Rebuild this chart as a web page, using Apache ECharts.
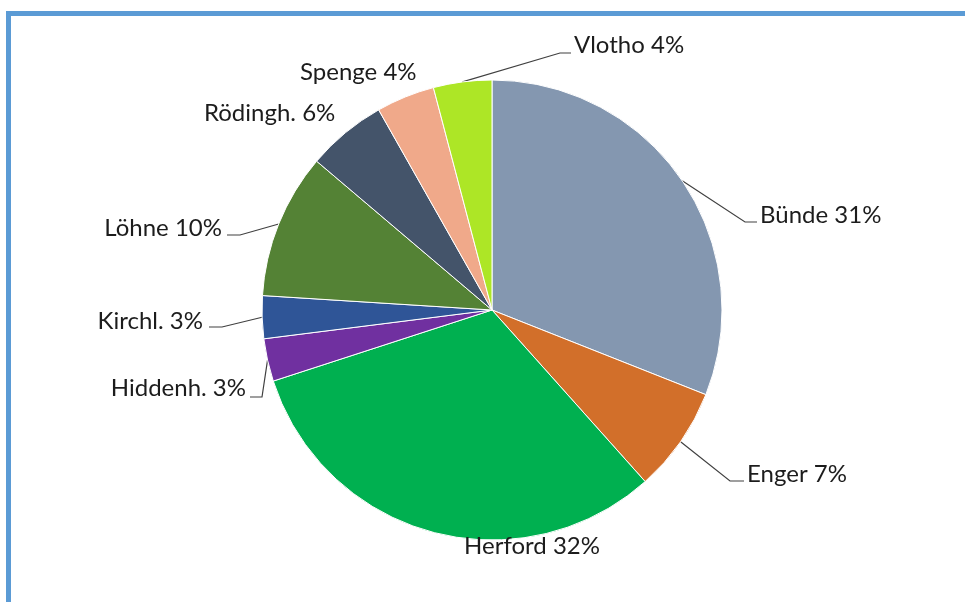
<!DOCTYPE html>
<html>
<head>
<meta charset="utf-8">
<script src="https://cdn.jsdelivr.net/npm/echarts@6/dist/echarts.min.js"></script>
<style>
html,body{margin:0;padding:0;background:#fff;}
#frame{position:absolute;left:6px;top:11px;width:1000px;height:700px;border-left:5px solid #5B9BD5;border-top:5px solid #5B9BD5;box-sizing:border-box;}
#chart{position:absolute;left:0;top:0;width:965px;height:602px;}
</style>
</head>
<body>
<div id="frame"></div>
<div id="chart"></div>
<script>
const categories = ['Bünde', 'Enger', 'Herford', 'Hiddenh.', 'Kirchl.', 'Löhne', 'Rödingh.', 'Spenge', 'Vlotho'];
const values = [31.0, 7.4, 31.6, 3.0, 3.0, 10.2, 5.6, 4.1, 4.1];
const colors = ['#8497B0', '#D26F2A', '#00B050', '#7030A0', '#2F5597', '#548235', '#44546A', '#F0A98A', '#ADE626'];

// label placement (Excel-style callouts): anchor point, alignment, leader elbow
const labelPlacement = [
  {x: 760, y: 215, align: 'left',   elbow: [745, 222], end: [757, 222]},
  {x: 747, y: 474, align: 'left',   elbow: [730, 481], end: [744, 481]},
  {x: 532, y: 546, align: 'center', elbow: null},
  {x: 246, y: 388, align: 'right',  elbow: [262, 397], end: [250, 397]},
  {x: 203, y: 321, align: 'right',  elbow: [222, 327], end: [209, 327]},
  {x: 222, y: 228, align: 'right',  elbow: [240, 235], end: [227, 235]},
  {x: 204, y: 113, align: 'left',   elbow: null},
  {x: 300, y: 72,  align: 'left',   elbow: null},
  {x: 574, y: 45,  align: 'left',   elbow: [560, 53], end: [571, 53]}
];

const chart = echarts.init(document.getElementById('chart'), null, {renderer: 'canvas'});
chart.setOption({
  animation: false,
  series: [{
    type: 'pie',
    center: [492, 310],
    radius: 230,
    startAngle: 90,
    clockwise: true,
    data: categories.map((c, i) => ({
      name: c, value: values[i], itemStyle: {color: colors[i]},
      labelLine: {show: !!labelPlacement[i].elbow}
    })),
    itemStyle: {borderColor: '#ffffff', borderWidth: 1},
    label: {
      show: true,
      position: 'outside',
      fontFamily: 'Lato',
      fontSize: 24,
      color: '#1c1c1c',
      formatter: p => p.name + ' ' + Math.round(p.percent) + '%'
    },
    labelLine: {show: true, length: 20, length2: 12, lineStyle: {color: '#404040', width: 1.2}},
    labelLayout: function (params) {
      const lp = labelPlacement[params.dataIndex];
      const out = {x: lp.x, y: lp.y, align: lp.align, verticalAlign: 'middle', hideOverlap: false, moveOverlap: null};
      if (lp.elbow && params.labelLinePoints) {
        out.labelLinePoints = [params.labelLinePoints[0], lp.elbow, lp.end];
      }
      return out;
    },
    emphasis: {disabled: true}
  }]
});
</script>
</body>
</html>
